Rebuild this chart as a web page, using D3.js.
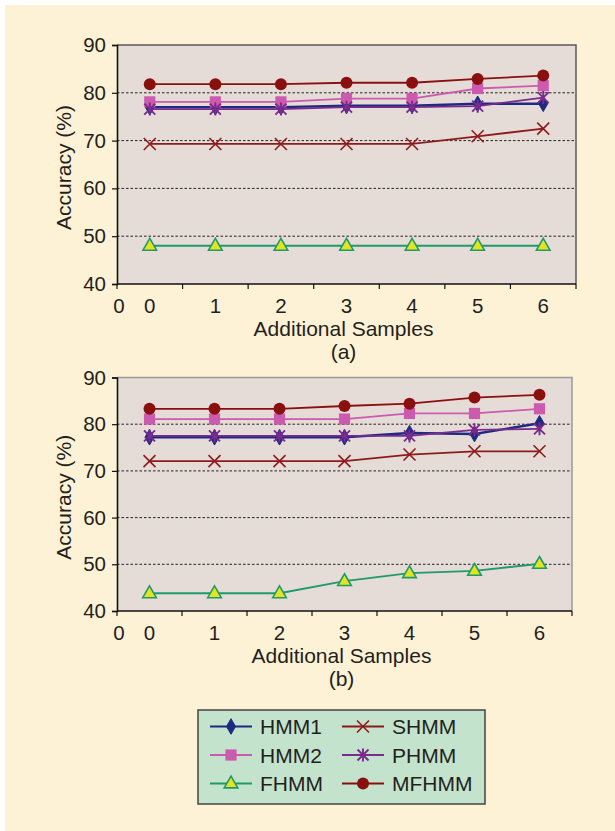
<!DOCTYPE html>
<html>
<head>
<meta charset="utf-8">
<script src="https://cdn.jsdelivr.net/npm/d3@7"></script>
<style>
  html, body { margin: 0; padding: 0; background: #ffffff; }
  svg { display: block; }
</style>
</head>
<body>
<div id="chart"></div>
<script>
// categories on the x axis (number of additional samples)
const categories = [0, 1, 2, 3, 4, 5, 6];
const yTicks = [40, 50, 60, 70, 80, 90];
const seriesNames = ["HMM1", "HMM2", "FHMM", "SHMM", "PHMM", "MFHMM"];

// panel (a)
const hmm1A  = [77.0, 77.0, 77.0, 77.3, 77.3, 77.7, 77.7];
const hmm2A  = [78.1, 78.1, 78.1, 78.8, 78.8, 80.9, 81.5];
const fhmmA  = [48.0, 48.0, 48.0, 48.0, 48.0, 48.0, 48.0];
const shmmA  = [69.3, 69.3, 69.3, 69.3, 69.3, 70.9, 72.5];
const phmmA  = [76.6, 76.6, 76.6, 77.0, 77.0, 77.2, 79.0];
const mfhmmA = [81.8, 81.8, 81.8, 82.1, 82.1, 82.9, 83.6];

// panel (b)
const hmm1B  = [77.2, 77.2, 77.2, 77.2, 78.1, 77.9, 80.2];
const hmm2B  = [81.1, 81.1, 81.1, 81.1, 82.3, 82.3, 83.3];
const fhmmB  = [43.8, 43.8, 43.8, 46.4, 48.1, 48.6, 50.1];
const shmmB  = [72.1, 72.1, 72.1, 72.1, 73.5, 74.2, 74.2];
const phmmB  = [77.5, 77.5, 77.5, 77.5, 77.5, 78.8, 79.0];
const mfhmmB = [83.3, 83.3, 83.3, 83.9, 84.4, 85.7, 86.3];

const W = 615, H = 831;
const font = "'Liberation Sans', Arial, Helvetica, sans-serif";
const textColor = "#231f20";

// look of each series
const styles = {
    HMM1:  { color: "#1d2a80", shape: "diamond" },
    HMM2:  { color: "#cc5aae", shape: "square" },
    FHMM:  { color: "#1e9a6c", shape: "triangle" },
    SHMM:  { color: "#8e1b1b", shape: "x" },
    PHMM:  { color: "#7b2a8e", shape: "asterisk" },
    MFHMM: { color: "#8a1010", shape: "circle" }
};

const svg = d3.select("#chart")
    .append("svg")
    .attr("width", W)
    .attr("height", H);

// cream page background
svg.append("rect")
    .attr("x", 5).attr("y", 5)
    .attr("width", W - 5).attr("height", H - 5)
    .attr("fill", "#fdf2d5");

function drawMarker(g, shape, color, cx, cy) {
    if (shape === "diamond") {
        g.append("path")
            .attr("d", d3.symbol(d3.symbolDiamond, 70)())
            .attr("transform", `translate(${cx},${cy})`)
            .attr("fill", color).attr("stroke", color).attr("stroke-width", 1);
    } else if (shape === "square") {
        g.append("path")
            .attr("d", d3.symbol(d3.symbolSquare, 125)())
            .attr("transform", `translate(${cx},${cy})`)
            .attr("fill", color);
    } else if (shape === "triangle") {
        g.append("path")
            .attr("d", d3.symbol(d3.symbolTriangle, 80)())
            .attr("transform", `translate(${cx},${cy + 0.5})`)
            .attr("fill", "#e4e41e").attr("stroke", color).attr("stroke-width", 1.6);
    } else if (shape === "circle") {
        g.append("circle")
            .attr("cx", cx).attr("cy", cy).attr("r", 6)
            .attr("fill", color);
    } else if (shape === "x") {
        const s = 6;
        g.append("path")
            .attr("d", `M${cx - s},${cy - s}L${cx + s},${cy + s}M${cx - s},${cy + s}L${cx + s},${cy - s}`)
            .attr("stroke", color).attr("stroke-width", 1.6).attr("fill", "none");
    } else if (shape === "asterisk") {
        const s = 5.5;
        g.append("path")
            .attr("d", `M${cx - s},${cy - s}L${cx + s},${cy + s}M${cx - s},${cy + s}L${cx + s},${cy - s}M${cx},${cy - s - 1}L${cx},${cy + s + 1}`)
            .attr("stroke", color).attr("stroke-width", 1.9).attr("fill", "none");
    }
}

function drawPanel(box, values, label) {
    const x = d3.scaleBand().domain(categories).range([box.left, box.right]);
    const y = d3.scaleLinear().domain([40, 90]).range([box.bottom, box.top]);
    const g = svg.append("g");

    // plot area
    g.append("rect")
        .attr("x", box.left).attr("y", box.top)
        .attr("width", box.right - box.left).attr("height", box.bottom - box.top)
        .attr("fill", "#e5dcd7");

    // dotted gridlines
    g.selectAll(".grid")
        .data(yTicks.filter(t => t > 40 && t < 90))
        .join("line")
        .attr("x1", box.left).attr("x2", box.right)
        .attr("y1", d => y(d)).attr("y2", d => y(d))
        .attr("stroke", "#222").attr("stroke-width", 1)
        .attr("stroke-dasharray", "2.5,2");

    // top and right frame
    g.append("path")
        .attr("d", `M${box.left},${box.top}H${box.right}V${box.bottom}`)
        .attr("fill", "none").attr("stroke", box.frame).attr("stroke-width", 1.5);

    // y axis
    const yAxis = g.append("g")
        .attr("transform", `translate(${box.left},0)`)
        .call(d3.axisLeft(y).tickValues(yTicks).tickSize(5).tickPadding(6));
    yAxis.select(".domain").attr("stroke", "#111").attr("stroke-width", 1.6);
    yAxis.selectAll(".tick line").attr("stroke", "#111").attr("stroke-width", 1.2);
    yAxis.selectAll("text")
        .attr("font-family", font).attr("font-size", 20.5).attr("fill", textColor);

    // x axis: ticks at band edges, labels at band centres
    const edges = categories.map(c => x(c)).concat([box.right]);
    g.append("line")
        .attr("x1", box.left).attr("x2", box.right)
        .attr("y1", box.bottom).attr("y2", box.bottom)
        .attr("stroke", "#111").attr("stroke-width", 1.6);
    g.selectAll(".xtick")
        .data(edges)
        .join("line")
        .attr("x1", d => d).attr("x2", d => d)
        .attr("y1", box.bottom).attr("y2", box.bottom + 5)
        .attr("stroke", "#111").attr("stroke-width", 1.2);
    g.selectAll(".xlabel")
        .data(categories)
        .join("text")
        .attr("x", d => x(d) + x.bandwidth() / 2)
        .attr("y", box.bottom + 29)
        .attr("text-anchor", "middle")
        .attr("font-family", font).attr("font-size", 20.5).attr("fill", textColor)
        .text(d => d);
    // the stray origin label
    g.append("text")
        .attr("x", box.left + 2).attr("y", box.bottom + 29)
        .attr("text-anchor", "middle")
        .attr("font-family", font).attr("font-size", 20.5).attr("fill", textColor)
        .text(categories[0]);

    // axis titles
    g.append("text")
        .attr("x", (box.left + box.right) / 2 - 3).attr("y", box.bottom + 52)
        .attr("text-anchor", "middle")
        .attr("font-family", font).attr("font-size", 21).attr("fill", textColor)
        .text("Additional Samples");
    g.append("text")
        .attr("x", (box.left + box.right) / 2 - 3).attr("y", box.bottom + 75)
        .attr("text-anchor", "middle")
        .attr("font-family", font).attr("font-size", 21).attr("fill", textColor)
        .text(label);
    g.append("text")
        .attr("transform", `translate(71,${(box.top + box.bottom) / 2 + 3}) rotate(-90)`)
        .attr("text-anchor", "middle")
        .attr("font-family", font).attr("font-size", 21).attr("fill", textColor)
        .text("Accuracy (%)");

    // series lines, then markers
    const line = d3.line()
        .x((d, i) => x(categories[i]) + x.bandwidth() / 2)
        .y(d => y(d));
    seriesNames.forEach(name => {
        const st = styles[name];
        const vals = values[name];
        g.append("path")
            .datum(vals)
            .attr("d", line)
            .attr("fill", "none")
            .attr("stroke", st.color)
            .attr("stroke-width", name === "HMM1" ? 2.4 : 1.8);
        vals.forEach((v, i) => {
            drawMarker(g, st.shape, st.color, x(categories[i]) + x.bandwidth() / 2, y(v));
        });
    });
}

drawPanel(
    { left: 117, right: 576, top: 45, bottom: 284, frame: "#5a5a5a" },
    { HMM1: hmm1A, HMM2: hmm2A, FHMM: fhmmA, SHMM: shmmA, PHMM: phmmA, MFHMM: mfhmmA },
    "(a)"
);
drawPanel(
    { left: 117, right: 572, top: 377.5, bottom: 611, frame: "#9a9a9a" },
    { HMM1: hmm1B, HMM2: hmm2B, FHMM: fhmmB, SHMM: shmmB, PHMM: phmmB, MFHMM: mfhmmB },
    "(b)"
);

// legend
const legend = svg.append("g");
legend.append("rect")
    .attr("x", 198).attr("y", 710)
    .attr("width", 287).attr("height", 94)
    .attr("fill", "#c3e3cc")
    .attr("stroke", "#444").attr("stroke-width", 1.5);

const legendCols = [210, 342];
const legendRows = [726.5, 755, 783.5];
seriesNames.forEach((name, i) => {
    const col = Math.floor(i / 3), row = i % 3;
    const lx = legendCols[col], ly = legendRows[row];
    const st = styles[name];
    legend.append("line")
        .attr("x1", lx).attr("x2", lx + 42)
        .attr("y1", ly).attr("y2", ly)
        .attr("stroke", st.color).attr("stroke-width", 2);
    drawMarker(legend, st.shape, st.color, lx + 21, ly);
    legend.append("text")
        .attr("x", lx + 50).attr("y", ly + 7.5)
        .attr("font-family", font).attr("font-size", 21).attr("fill", textColor)
        .text(name);
});
</script>
</body>
</html>
